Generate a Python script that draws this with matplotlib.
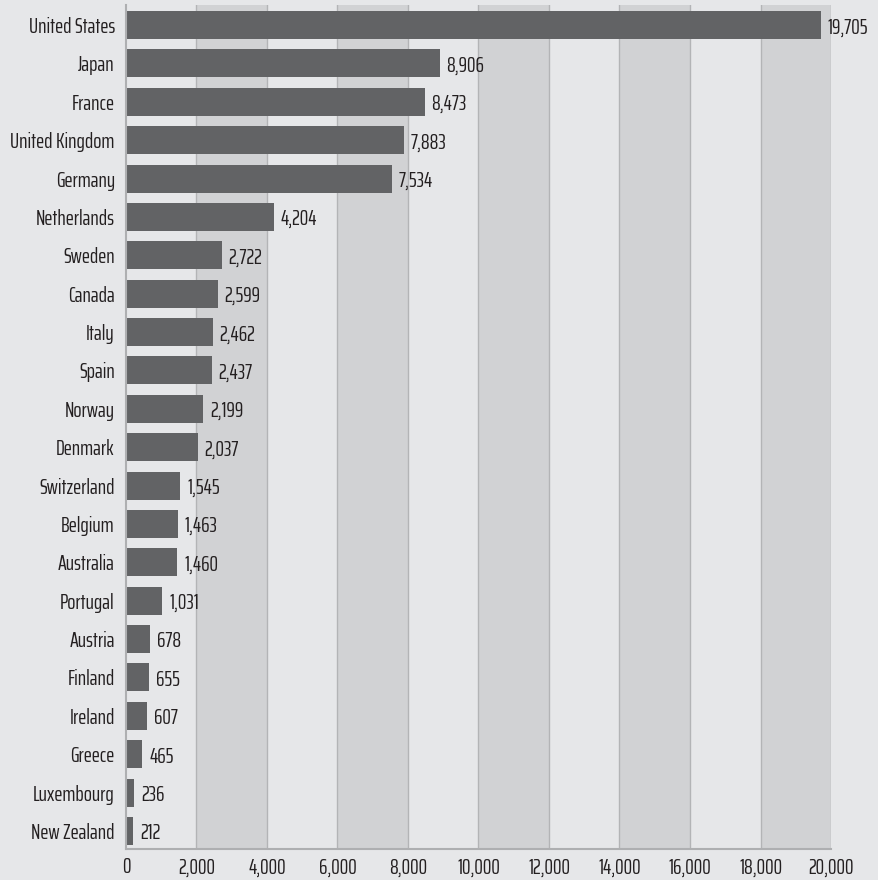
import matplotlib
matplotlib.use("Agg")
import matplotlib.pyplot as plt
from matplotlib.ticker import FuncFormatter

countries = ["United States", "Japan", "France", "United Kingdom", "Germany",
             "Netherlands", "Sweden", "Canada", "Italy", "Spain", "Norway",
             "Denmark", "Switzerland", "Belgium", "Australia", "Portugal",
             "Austria", "Finland", "Ireland", "Greece", "Luxembourg", "New Zealand"]
values = [19705, 8906, 8473, 7883, 7534, 4204, 2722, 2599, 2462, 2437, 2199,
          2037, 1545, 1463, 1460, 1031, 678, 655, 607, 465, 236, 212]
x_ticks = [0, 2000, 4000, 6000, 8000, 10000, 12000, 14000, 16000, 18000, 20000]

plt.rcParams['font.family'] = ['Saira ExtraCondensed', 'DejaVu Sans']

bg = "#e6e7e9"
band = "#d1d2d4"
bar_color = "#626365"
ink = "#231f20"

fig = plt.figure(figsize=(8.79, 8.80), dpi=100, facecolor=bg)
ax = fig.add_axes([0.1433, 0.0352, 0.8021, 0.959])
ax.set_facecolor(bg)

# alternating shaded columns every 2,000
for lo in range(2000, 20000, 4000):
    ax.axvspan(lo, lo + 2000, color=band, zorder=0, lw=0)
for t in x_ticks[1:]:
    ax.axvline(t, color="#b3b4b6", lw=1, zorder=0.5)

pos = list(range(len(countries)))
ax.barh(pos, values, height=0.73, color=bar_color, zorder=2)
for p, v in zip(pos, values):
    ax.text(v + 190, p + 0.06, f"{v:,}", va="center", ha="left",
            fontsize=15.5, color=ink, clip_on=False, zorder=3)

ax.set_yticks(pos)
ax.set_yticklabels(countries, fontsize=15.5, color=ink)
ax.set_xticks(x_ticks)
ax.xaxis.set_major_formatter(FuncFormatter(lambda x, _: f"{int(x):,}"))
ax.tick_params(axis="x", labelsize=15.5, labelcolor=ink, length=0, pad=6)
ax.tick_params(axis="y", length=0, pad=8)

ax.set_xlim(0, 20000)
ax.set_ylim(21.47, -0.52)

for s in ["top", "right"]:
    ax.spines[s].set_visible(False)
for s in ["left", "bottom"]:
    ax.spines[s].set_color("#aeafb1")
    ax.spines[s].set_linewidth(1.5)

fig.savefig("out.png", dpi=100, facecolor=bg)
